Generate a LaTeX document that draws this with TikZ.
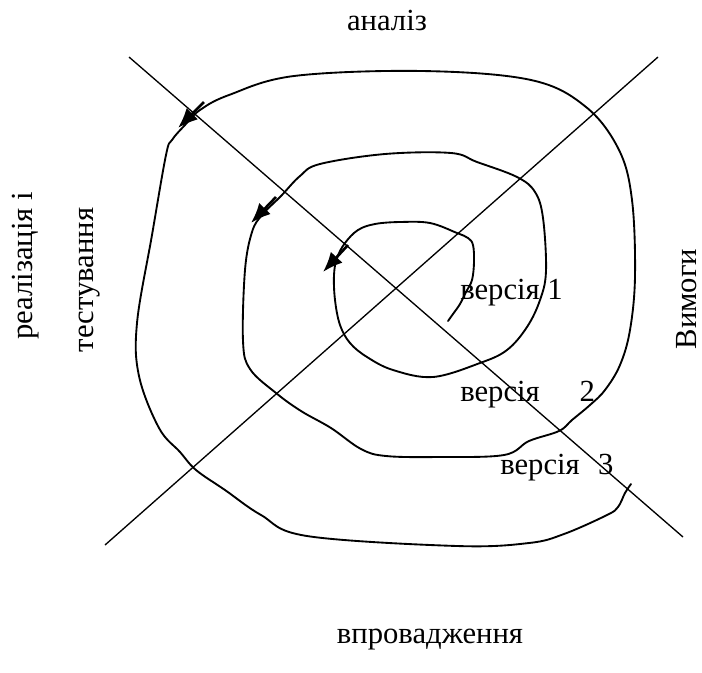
\documentclass[tikz,border=0pt]{standalone}
\usepackage{fontspec}
\newfontfamily\timesfont{Liberation Serif}
\usetikzlibrary{arrows.meta}
\begin{document}
\begin{tikzpicture}[
  x=0.75pt, y=-0.75pt,
  axis/.style={line width=1pt, black},
  spiral/.style={line width=1.4pt, black, line join=round, line cap=round},
  arr/.style={-{Latex[length=15pt,width=12pt]}, line width=2pt},
  lbl/.style={font=\timesfont\fontsize{23}{27}\selectfont, inner sep=0pt},
  vlbl/.style={lbl, rotate=90}
]
\useasboundingbox (0,0) rectangle (702,672);
% the two diagonals
\coordinate (nw) at (129,57);
\coordinate (se) at (683,537);
\coordinate (sw) at (105,545);
\coordinate (ne) at (658,57);
\draw[axis] (nw) -- (se);
\draw[axis] (sw) -- (ne);
% the spiral, from the centre outwards
\draw[spiral] plot[smooth, tension=0.6] coordinates {
  (448,321) (453,314) (460,304) (466,292) (472,280) (474,262) (473,245)
  (468,238) (457,233) (430,223) (400,222) (375,224) (358,230) (345,243)
  (337,258) (334,275) (335,300) (340,325) (350,343) (367,357) (393,370)
  (433,377) (480,363) (507,350) (527,327) (540,300) (546,271) (543,218)
  (535,192) (517,177) (477,162) (451,153) (385,154) (320,164) (300,176)
  (281,196) (262,215) (252,232) (245,270) (243,341) (250,369) (276,393)
  (301,411) (331,428) (361,449) (386,456) (439,457) (504,455) (529,441)
  (559,431) (572,420) (590,405) (605,390) (620,365) (630,330) (635,276)
  (632,200) (619,150) (586,107) (531,80) (422,71) (294,76) (229,95)
  (200,110) (185,125) (172,140) (166,155) (152,235) (137,323) (139,376)
  (159,428) (180,452) (196,470) (225,490) (261,515) (307,536) (457,546)
  (529,543) (564,534) (607,515) (618,507) (625,493) (631,484)};
% direction arrows
\coordinate (a1) at (204,102);
\coordinate (b1) at (178,128);
\coordinate (a2) at (276,197);
\coordinate (b2) at (251,223);
\coordinate (a3) at (348,245);
\coordinate (b3) at (323,272);
\draw[arr] (a1) -- (b1);
\draw[arr] (a2) -- (b2);
\draw[arr] (a3) -- (b3);
% labels
\node[lbl] (analiz) at (387,20) {аналіз};
\node[lbl] (vprov) at (430,640) {впровадження};
\node[vlbl] (realiz) at (26,266) {реалізація і};
\node[vlbl] (testuv) at (90,280) {тестування};
\node[vlbl] (vymohy) at (687,299) {Вимоги};
\node[lbl, anchor=base west] (v1) at (460,299) {версія 1};
\node[lbl, anchor=base west] (v2) at (460,401) {версія\hspace{1.3em}2};
\node[lbl, anchor=base west] (v3) at (500,474) {версія\hspace{0.6em}3};
\end{tikzpicture}
\end{document}
